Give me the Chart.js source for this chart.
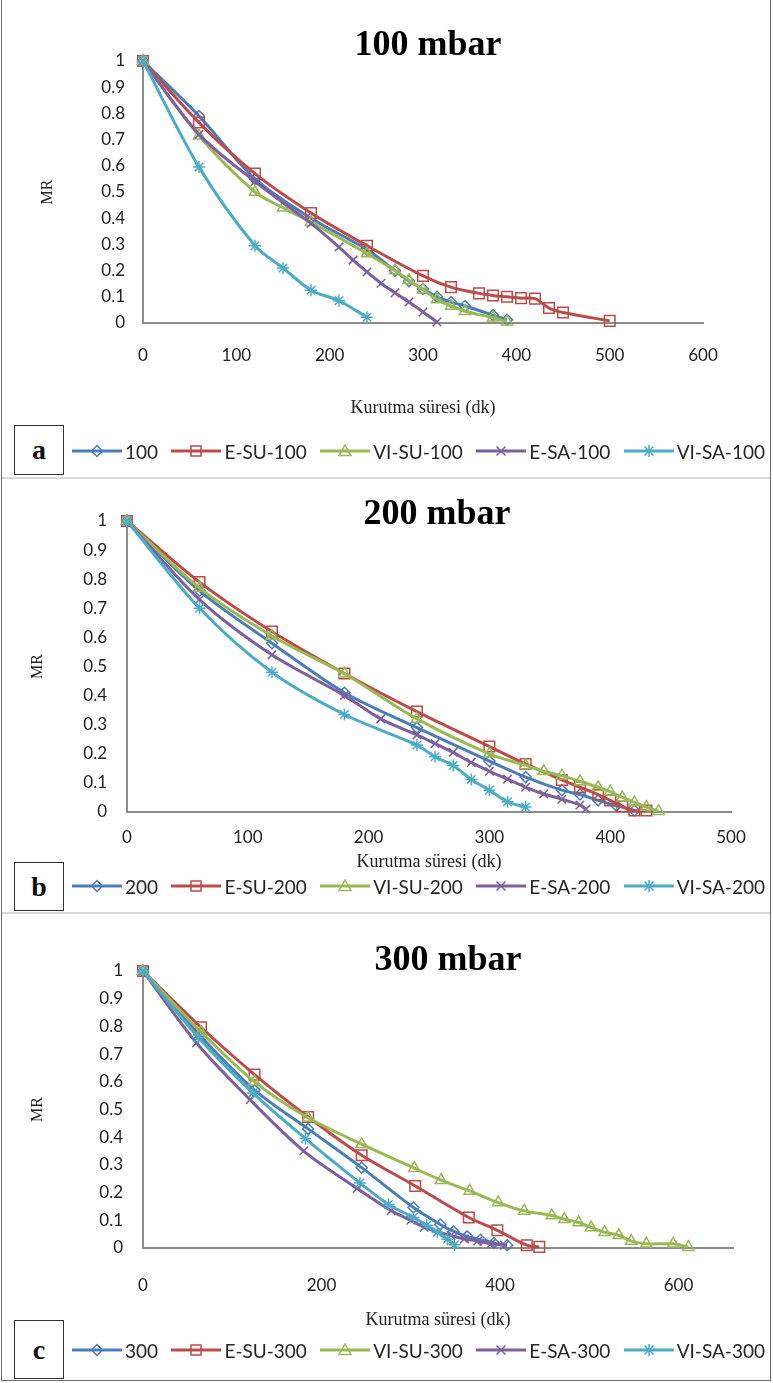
<!DOCTYPE html>
<html>
<head>
<meta charset="utf-8">
<script src="https://cdn.jsdelivr.net/npm/chart.js@4.4.0/dist/chart.umd.min.js"></script>
<style>
  body { margin:0; background:#fff; }
  #page { position:relative; width:773px; height:1383px; overflow:hidden; background:#fff; }
  .frame { position:absolute; left:1px; top:0; width:768px; height:1380px; border:1px solid #6b6b6b; border-top:none; }
  .sep { position:absolute; left:2px; width:768px; height:2px; background:#d9d9d9; }
  canvas { position:absolute; left:0; }
  .title { position:absolute; transform:translate(-50%,-50%); font:bold 36px "Liberation Serif", serif; color:#000; white-space:nowrap; }
  .tag { position:absolute; left:14px; width:48px; border:1.5px solid #333; font:bold 28px "Liberation Serif", serif; color:#111;
         display:flex; align-items:center; justify-content:center; background:#fff; }
  .legend { position:absolute; left:72px; width:693px; height:24px; display:flex; justify-content:space-between; align-items:center;
            font:19px Lato, "Open Sans", sans-serif; color:#262626; }
  .legend .item { display:flex; align-items:center; gap:3px; white-space:nowrap; }
  .legend svg { display:block; }
</style>
</head>
<body>
<div id="page">
  <canvas id="chartA" width="773" height="425" style="top:0px"></canvas>
  <canvas id="chartB" width="773" height="400" style="top:478px"></canvas>
  <canvas id="chartC" width="773" height="420" style="top:913px"></canvas>
  <div class="frame"></div>
  <div class="sep" style="top:477px"></div>
  <div class="sep" style="top:912px"></div>
  <div class="title" style="left:428px;top:43px">100 mbar</div>
  <div class="title" style="left:437px;top:512px">200 mbar</div>
  <div class="title" style="left:448px;top:958px">300 mbar</div>
  <div class="tag" style="top:425px;height:48px">a</div>
  <div class="tag" style="top:862px;height:47px">b</div>
  <div class="tag" style="top:1320px;height:57px">c</div>
  <div class="legend" id="legendA" style="top:439px"></div>
  <div class="legend" id="legendB" style="top:874px"></div>
  <div class="legend" id="legendC" style="top:1338px"></div>
</div>
<script>
// --- series styles (Excel 2007 default palette) ---
const COLORS  = ['#4A7EBB', '#BE4B48', '#98B954', '#7D60A0', '#4BACC6'];
const MARKERS = ['rectRot', 'rect', 'triangle', 'crossRot', 'star'];
const MARKER_R = [5.5, 7.5, 6.5, 6, 6];

// --- a) 100 mbar ---
const a_names = ['100', 'E-SU-100', 'VI-SU-100', 'E-SA-100', 'VI-SA-100'];
const a_100_t   = [0, 60, 120, 180, 240, 270, 285, 300, 315, 330, 345, 375, 390];
const a_100_mr  = [1, 0.79, 0.55, 0.40, 0.28, 0.20, 0.16, 0.13, 0.10, 0.08, 0.065, 0.03, 0.012];
const a_esu_t   = [0, 60, 120, 180, 240, 300, 330, 360, 375, 390, 405, 420, 435, 450, 500];
const a_esu_mr  = [1, 0.765, 0.57, 0.42, 0.295, 0.18, 0.137, 0.113, 0.105, 0.10, 0.095, 0.093, 0.057, 0.04, 0.008];
const a_visu_t  = [0, 60, 120, 150, 180, 240, 270, 285, 300, 315, 330, 345, 375, 390];
const a_visu_mr = [1, 0.715, 0.50, 0.44, 0.385, 0.265, 0.20, 0.163, 0.127, 0.09, 0.065, 0.045, 0.02, 0.005];
const a_esa_t   = [0, 60, 120, 180, 210, 225, 240, 255, 270, 285, 300, 315];
const a_esa_mr  = [1, 0.72, 0.54, 0.38, 0.29, 0.24, 0.195, 0.152, 0.115, 0.08, 0.042, 0.004];
const a_visa_t  = [0, 60, 120, 150, 180, 210, 240];
const a_visa_mr = [1, 0.595, 0.295, 0.21, 0.125, 0.085, 0.022];

// --- b) 200 mbar ---
const b_names = ['200', 'E-SU-200', 'VI-SU-200', 'E-SA-200', 'VI-SA-200'];
const b_200_t   = [0, 60, 120, 180, 240, 300, 330, 360, 375, 390, 405, 420];
const b_200_mr  = [1, 0.76, 0.58, 0.41, 0.29, 0.175, 0.12, 0.075, 0.06, 0.04, 0.022, 0.005];
const b_esu_t   = [0, 60, 120, 180, 240, 300, 330, 360, 375, 390, 400, 410, 420, 430];
const b_esu_mr  = [1, 0.79, 0.62, 0.476, 0.345, 0.225, 0.165, 0.11, 0.085, 0.06, 0.04, 0.02, 0.005, 0.005];
const b_visu_t  = [0, 60, 120, 180, 240, 300, 330, 345, 360, 375, 390, 400, 410, 420, 430, 440];
const b_visu_mr = [1, 0.77, 0.605, 0.475, 0.32, 0.20, 0.16, 0.14, 0.125, 0.105, 0.085, 0.07, 0.05, 0.033, 0.017, 0.003];
const b_esa_t   = [0, 60, 120, 180, 210, 240, 255, 270, 285, 300, 315, 330, 345, 360, 375, 380];
const b_esa_mr  = [1, 0.73, 0.54, 0.40, 0.32, 0.265, 0.235, 0.205, 0.17, 0.14, 0.113, 0.085, 0.062, 0.044, 0.024, 0.01];
const b_visa_t  = [0, 60, 120, 180, 240, 255, 270, 285, 300, 315, 330];
const b_visa_mr = [1, 0.70, 0.48, 0.335, 0.23, 0.19, 0.16, 0.112, 0.075, 0.035, 0.017];

// --- c) 300 mbar ---
const c_names = ['300', 'E-SU-300', 'VI-SU-300', 'E-SA-300', 'VI-SA-300'];
const c_300_t   = [0, 63, 125, 185, 245, 303, 333, 348, 363, 378, 393, 408];
const c_300_mr  = [1, 0.77, 0.57, 0.43, 0.29, 0.146, 0.085, 0.06, 0.042, 0.03, 0.018, 0.01];
const c_esu_t   = [0, 65, 125, 185, 245, 305, 365, 397, 430, 444];
const c_esu_mr  = [1, 0.797, 0.626, 0.473, 0.335, 0.224, 0.11, 0.064, 0.01, 0.004];
const c_visu_t  = [0, 65, 125, 185, 245, 304, 334, 366, 398, 427, 458, 472, 488, 502, 517, 533, 547, 564, 594, 611];
const c_visu_mr = [1, 0.78, 0.60, 0.47, 0.375, 0.288, 0.245, 0.206, 0.164, 0.134, 0.117, 0.104, 0.092, 0.074, 0.057, 0.046, 0.025, 0.015, 0.015, 0.003];
const c_esa_t   = [0, 60, 120, 180, 240, 278, 300, 315, 330, 345, 360, 375, 390, 405];
const c_esa_mr  = [1, 0.74, 0.535, 0.35, 0.215, 0.135, 0.10, 0.075, 0.058, 0.045, 0.033, 0.025, 0.015, 0.01];
const c_visa_t  = [0, 62, 123, 182, 243, 275, 303, 318, 330, 341, 349];
const c_visa_mr = [1, 0.76, 0.56, 0.395, 0.235, 0.157, 0.11, 0.082, 0.057, 0.032, 0.012];

const Y_TITLE = 'MR';
const X_TITLE = 'Kurutma süresi (dk)';

const zip = (t, v) => t.map((x, i) => ({ x, y: v[i] }));

function iconSvg(i){
  const c = COLORS[i];
  let m = '';
  switch (MARKERS[i]) {
    case 'rectRot':  m = `<polygon points="25,4.5 30.5,10 25,15.5 19.5,10" fill="none" stroke="${c}" stroke-width="1.5"/>`; break;
    case 'rect':     m = `<rect x="20" y="5" width="10" height="10" fill="none" stroke="${c}" stroke-width="1.5"/>`; break;
    case 'triangle': m = `<polygon points="25,4 31,14.5 19,14.5" fill="none" stroke="${c}" stroke-width="1.5"/>`; break;
    case 'crossRot': m = `<path d="M20.5 5.5 L29.5 14.5 M29.5 5.5 L20.5 14.5" stroke="${c}" stroke-width="1.5"/>`; break;
    case 'star':     m = `<path d="M20.5 5.5 L29.5 14.5 M29.5 5.5 L20.5 14.5 M25 4 L25 16" stroke="${c}" stroke-width="1.5"/>`; break;
  }
  return `<svg width="50" height="20"><line x1="0" y1="10" x2="50" y2="10" stroke="${c}" stroke-width="3"/>${m}</svg>`;
}

function renderLegend(id, names){
  document.getElementById(id).innerHTML = names.map((n, i) =>
    `<div class="item">${iconSvg(i)}<span>${n}</span></div>`).join('');
}

function makeChart(id, names, series, p){
  const datasets = series.map((s, i) => ({
    label: names[i],
    data: zip(s[0], s[1]),
    showLine: true,
    borderColor: COLORS[i],
    borderWidth: 3,
    tension: 0.3,
    pointStyle: MARKERS[i],
    pointRadius: MARKER_R[i],
    pointBorderColor: COLORS[i],
    pointBorderWidth: 1.5,
    pointBackgroundColor: 'rgba(0,0,0,0)',
    clip: false,
    order: -i,
  }));
  const tickFont = { family: 'Lato, "Open Sans", sans-serif', size: 17 };
  return new Chart(document.getElementById(id), {
    type: 'scatter',
    data: { datasets },
    options: {
      responsive: false,
      animation: false,
      events: [],
      layout: { padding: { top: p.top, right: p.right, left: 0, bottom: 0 } },
      plugins: { legend: { display: false }, tooltip: { enabled: false } },
      scales: {
        x: {
          type: 'linear', min: 0, max: p.xMax,
          grid: { display: false, drawTicks: false },
          border: { display: true, color: '#8c8c8c', width: 2 },
          ticks: { stepSize: p.xStep, padding: p.xTickPad, color: '#222', font: tickFont, maxRotation: 0 },
          afterBuildTicks: (s) => { s.ticks = s.ticks.filter(t => t.value % p.xStep === 0); },
          afterFit: (s) => { s.height = p.xHeight; },
          title: { display: true, text: X_TITLE, color: '#222',
                   font: { family: '"Liberation Serif", serif', size: 18 },
                   padding: { top: 0, bottom: p.xTitlePad } },
        },
        y: {
          type: 'linear', min: 0, max: 1,
          grid: { display: false, drawTicks: false },
          border: { display: true, color: '#8c8c8c', width: 2 },
          ticks: { stepSize: 0.1, padding: p.yTickPad, color: '#222', font: tickFont,
                   callback: (v) => String(Math.round(v * 10) / 10) },
          afterFit: (s) => { s.width = p.left; },
          title: { display: true, text: Y_TITLE, color: '#222',
                   font: { family: '"Liberation Serif", serif', size: 16 },
                   padding: { top: p.yTitlePad, bottom: 0 } },
        },
      },
    },
  });
}

makeChart('chartA', a_names, [
  [a_100_t, a_100_mr], [a_esu_t, a_esu_mr], [a_visu_t, a_visu_mr], [a_esa_t, a_esa_mr], [a_visa_t, a_visa_mr],
], { top: 61, right: 70, left: 143, xMax: 600, xStep: 100, xHeight: 102, xTickPad: 22, xTitlePad: 6, yTickPad: 18, yTitlePad: 38 });

makeChart('chartB', b_names, [
  [b_200_t, b_200_mr], [b_esu_t, b_esu_mr], [b_visu_t, b_visu_mr], [b_esa_t, b_esa_mr], [b_visa_t, b_visa_mr],
], { top: 43, right: 42, left: 127, xMax: 500, xStep: 100, xHeight: 66, xTickPad: 15, xTitlePad: 5, yTickPad: 20, yTitlePad: 28 });

makeChart('chartC', c_names, [
  [c_300_t, c_300_mr], [c_esu_t, c_esu_mr], [c_visu_t, c_visu_mr], [c_esa_t, c_esa_mr], [c_visa_t, c_visa_mr],
], { top: 58, right: 40, left: 143, xMax: 661, xStep: 200, xHeight: 85, xTickPad: 27, xTitlePad: 2, yTickPad: 20, yTitlePad: 28 });

renderLegend('legendA', a_names);
renderLegend('legendB', b_names);
renderLegend('legendC', c_names);
</script>
</body>
</html>
